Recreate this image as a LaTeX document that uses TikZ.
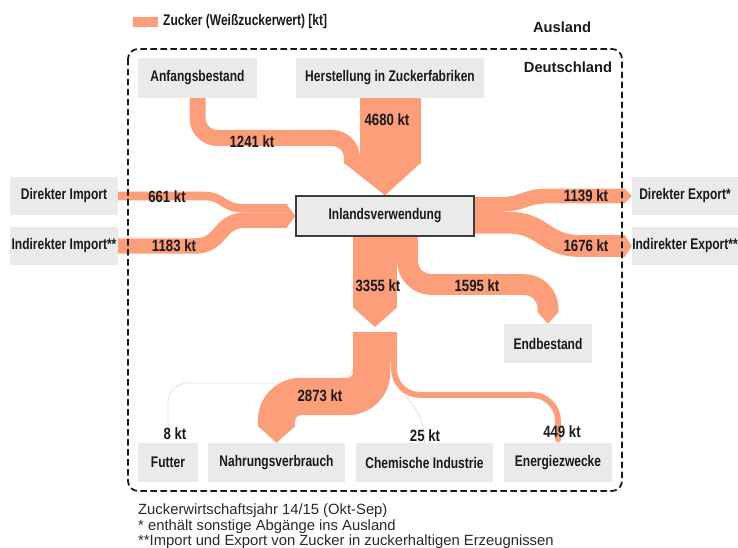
\documentclass[tikz,border=0pt]{standalone}
\usepackage{fontspec}
\setmainfont{Liberation Sans}
\newfontfamily\labelfont[FakeStretch=0.78]{Liberation Sans Bold}
\newfontfamily\qtyfont[FakeStretch=0.81]{Liberation Sans Bold}
\usetikzlibrary{calc}
\definecolor{flow}{RGB}{253,158,122}
\definecolor{flowfaint}{RGB}{252,218,204}
\definecolor{boxgray}{RGB}{234,234,234}
\definecolor{ink}{RGB}{26,26,26}
\definecolor{footink}{RGB}{40,40,40}
\pgfdeclarelayer{flows}
\pgfsetlayers{flows,main}
\begin{document}
\begin{tikzpicture}[x=1pt,y=-1pt,
  box/.style={fill=boxgray, inner sep=0pt, text=ink,
    font=\labelfont\fontsize{15.4}{17}\selectfont},
  qty/.style={text=ink, inner sep=0pt,
    font=\qtyfont\fontsize{16.3}{18}\selectfont},
  region/.style={text=ink, inner sep=0pt,
    font=\bfseries\fontsize{14.7}{16}\selectfont},
  foot/.style={text=footink, inner sep=0pt, anchor=west,
    font=\fontsize{14.8}{16}\selectfont},
  band/.style={draw=flow, line cap=butt},
  thinflow/.style={draw=flowfaint, line width=0.9pt},
]
\useasboundingbox (0,0) rectangle (738,548);

% legend
\fill[flow] (133,17) rectangle (158,27);
\node[box, fill=none, anchor=west] (legend) at (163,22) {Zucker (Weißzuckerwert) [kt]};

% region names
\node[region] (ausland) at (562,27) {Ausland};
\node[region] (de) at (568,67) {Deutschland};

% boxes
\node[box, minimum width=119pt, minimum height=40pt] (anf) at (197.5,78) {Anfangsbestand};
\node[box, minimum width=188pt, minimum height=40pt] (herst) at (390,78) {Herstellung in Zuckerfabriken};
\node[box, minimum width=108pt, minimum height=38pt] (dimp) at (64,196) {Direkter Import};
\node[box, minimum width=108pt, minimum height=38pt] (iimp) at (64,246) {Indirekter Import**};
\node[box, draw=ink!85, line width=1.3pt, minimum width=178pt, minimum height=40pt] (inl) at (385,216) {Inlandsverwendung};
\node[box, minimum width=106pt, minimum height=38pt] (dexp) at (685,196) {Direkter Export*};
\node[box, minimum width=106pt, minimum height=38pt] (iexp) at (685,246) {Indirekter Export**};
\node[box, minimum width=88pt, minimum height=39pt] (endb) at (548,343.5) {Endbestand};
\node[box, minimum width=60pt, minimum height=39pt] (futter) at (168,462.5) {Futter};
\node[box, minimum width=137pt, minimum height=39pt] (nahr) at (276.5,462.5) {Nahrungsverbrauch};
\node[box, minimum width=137pt, minimum height=39pt] (chem) at (424.5,462.5) {Chemische Industrie};
\node[box, minimum width=108pt, minimum height=39pt] (energ) at (558,462.5) {Energiezwecke};

\begin{pgfonlayer}{flows}
  % inflows from above
  \draw[band, line width=16pt, rounded corners=20pt]
    (anf.south) -- (197.5,138) -- (352,138) -- (352,164);
  \fill[flow] (359.5,98) rectangle (420.5,164);
  \fill[flow] (344,163) -- (420.5,163) -- (inl.north) -- cycle;

  % imports
  \draw[band, line width=8.6pt]
    (dimp.east) -- (204,196) .. controls (224,196) and (222,208.3) .. (244,208.3) -- (287,208.3);
  \draw[band, line width=15.4pt]
    (iimp.east) -- (195,246) .. controls (222,246) and (218,220.3) .. (245,220.3) -- (287,220.3);
  \fill[flow] (286.5,204) -- (inl.west) -- (286.5,228) -- cycle;

  % exports
  \draw[band, line width=14.8pt]
    ($(inl.east)+(0,-11.6)$) -- (500,204.4) .. controls (524,204.4) and (524,196) .. (548,196) -- (625,196);
  \fill[flow] (624.5,188.6) -- (dexp.west) -- (624.5,203.4) -- cycle;
  \draw[band, line width=21.8pt]
    ($(inl.east)+(0,6.7)$) -- (508,222.7) .. controls (544,222.7) and (544,246) .. (580,246) -- (625,246);
  \fill[flow] (624.5,235.1) -- (iexp.west) -- (624.5,256.9) -- cycle;

  % domestic use and closing stock
  \fill[flow] (353,236) rectangle (397,308);
  \fill[flow] (353,307.5) -- (397,307.5) -- (375,327) -- cycle;
  \draw[band, line width=20.8pt, rounded corners=24pt]
    (407.4,236) -- (407.4,284.5) -- (548,284.5) -- (548,312.5);
  \fill[flow] (537.6,312) -- (558.4,312) -- (endb.north) -- cycle;

  % split of domestic use
  \draw[thinflow, rounded corners=20pt]
    (354,336) -- (354,383) -- (168,383) -- (futter.north);
  \draw[thinflow]
    (391.5,336) -- (391.5,366) .. controls (391.5,398) and (424.5,396) .. (chem.north);
  \fill[flow] (353,332) rectangle (397,362);
  \draw[band, line width=37.4pt, rounded corners=24pt]
    (371.7,332) -- (371.7,396.5) -- (276.5,396.5) -- (276.5,426.5);
  \fill[flow] (257.8,426) -- (295.2,426) -- (nahr.north) -- cycle;
  \draw[band, line width=5.9pt, rounded corners=26pt]
    (394.05,332) -- (394.05,395) -- (558,395) -- (558,440.5);
  \fill[flow] (555,440) -- (561,440) -- (558,443) -- cycle;
\end{pgfonlayer}

% country border
\draw[ink, line width=1.8pt, dash pattern=on 6.5pt off 3.5pt, rounded corners=10pt]
  (128,49) rectangle (622,491);

% quantities
\node[qty] (q1241) at (252,142) {1241 kt};
\node[qty] (q4680) at (387,120) {4680 kt};
\node[qty] (q661) at (167,197) {661 kt};
\node[qty] (q1183) at (174,246) {1183 kt};
\node[qty] (q1139) at (586,196) {1139 kt};
\node[qty] (q1676) at (586,246) {1676 kt};
\node[qty] (q3355) at (378,286) {3355 kt};
\node[qty] (q1595) at (477,286) {1595 kt};
\node[qty] (q2873) at (320,396) {2873 kt};
\node[qty] (q8) at (175,434) {8 kt};
\node[qty] (q25) at (425,436) {25 kt};
\node[qty] (q449) at (562,432) {449 kt};

% notes
\node[foot] (n1) at (138,511) {Zuckerwirtschaftsjahr 14/15 (Okt-Sep)};
\node[foot] (n2) at (138,526.5) {* enthält sonstige Abgänge ins Ausland};
\node[foot] (n3) at (138,542) {**Import und Export von Zucker in zuckerhaltigen Erzeugnissen};
\end{tikzpicture}
\end{document}
